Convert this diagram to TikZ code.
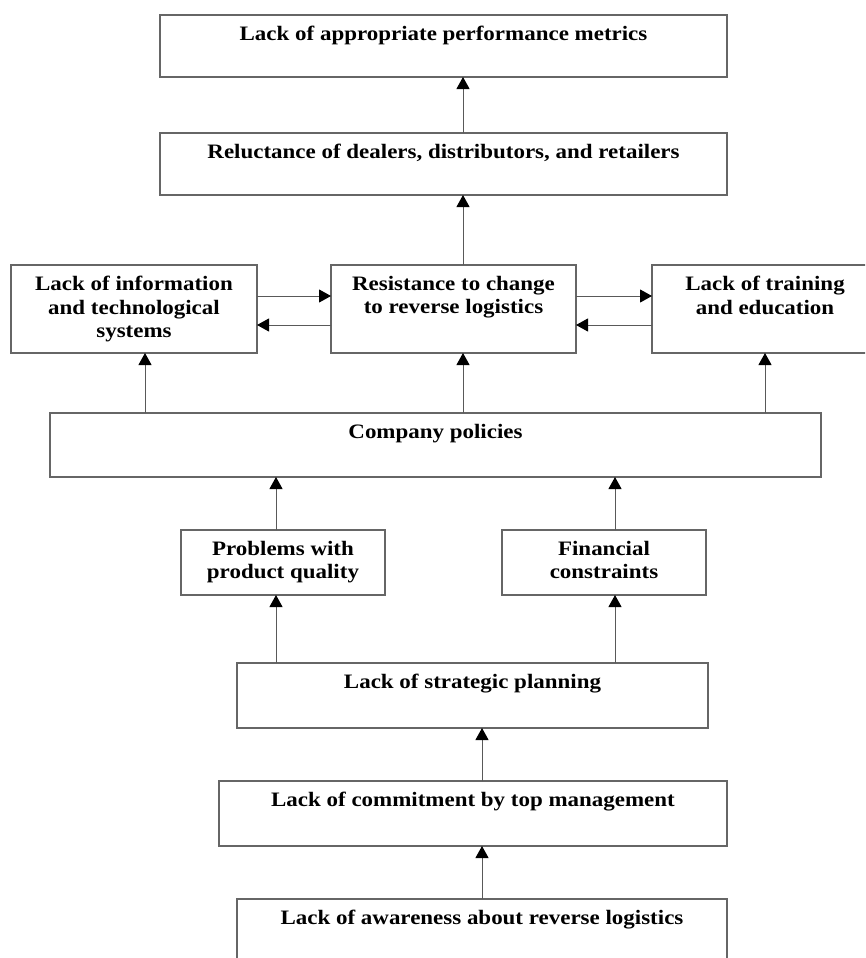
\documentclass[tikz,border=0pt]{standalone}
\usepackage{fontspec}
\setmainfont{Liberation Serif}[FakeStretch=1.12]
\usetikzlibrary{arrows.meta}

% A framed box given by its left, top, right and bottom edges, with its
% text set near the top edge.
\newcommand\flowbox[6]{%
  \node[boxstyle, minimum width={(#4-#2)*1pt}, minimum height={(#5-#3)*1pt}]
    (#1) at ({(#2+#4)/2},{(#3+#5)/2}) {};
  \node[txt] (#1-t) at ([yshift=-11pt]#1.north) {#6};}

\begin{document}
\begin{tikzpicture}[x=1pt, y=-1pt,
  boxstyle/.style={draw=black!60, line width=1.3pt, fill=white,
    inner sep=0pt, outer sep=0pt},
  txt/.style={font=\bfseries\fontsize{20.5}{23.5}\selectfont, align=center,
    inner sep=0pt, anchor=north},
  arr/.style={draw=black!65, line width=1pt,
    -{Triangle[width=13pt,length=12pt,color=black]}}]

\useasboundingbox (0,0) rectangle (865,958);
\clip (0,0) rectangle (865,958);

% boxes
\flowbox{metrics}{160}{15}{727}{77}{Lack of appropriate performance metrics}
\flowbox{dealers}{160}{133}{727}{195}{Reluctance of dealers, distributors, and retailers}
\flowbox{info}{11}{265}{257}{353}{Lack of information\\and technological\\systems}
\flowbox{resist}{331}{265}{576}{353}{Resistance to change\\to reverse logistics}
\flowbox{train}{652}{265}{878}{353}{Lack of training\\and education}
\flowbox{policy}{50}{413}{821}{477}{Company policies}
\flowbox{quality}{181}{530}{385}{595}{Problems with\\product quality}
\flowbox{finance}{502}{530}{706}{595}{Financial\\constraints}
\flowbox{plan}{237}{663}{708}{728}{Lack of strategic planning}
\flowbox{commit}{219}{781}{727}{846}{Lack of commitment by top management}
\flowbox{aware}{237}{899}{727}{975}{Lack of awareness about reverse logistics}

% columns and rows the connectors run along
\coordinate (xa) at (463,0);
\coordinate (xl) at (145,0);
\coordinate (xr) at (765,0);
\coordinate (xq) at (276,0);
\coordinate (xf) at (615,0);
\coordinate (xc) at (482,0);
\coordinate (yu) at (0,296);
\coordinate (yd) at (0,325);

% vertical connectors
\draw[arr] (dealers.north -| xa) -- (metrics.south -| xa);
\draw[arr] (resist.north -| xa) -- (dealers.south -| xa);
\draw[arr] (policy.north -| xl) -- (info.south -| xl);
\draw[arr] (policy.north -| xa) -- (resist.south -| xa);
\draw[arr] (policy.north -| xr) -- (train.south -| xr);
\draw[arr] (quality.north -| xq) -- (policy.south -| xq);
\draw[arr] (finance.north -| xf) -- (policy.south -| xf);
\draw[arr] (plan.north -| xq) -- (quality.south -| xq);
\draw[arr] (plan.north -| xf) -- (finance.south -| xf);
\draw[arr] (commit.north -| xc) -- (plan.south -| xc);
\draw[arr] (aware.north -| xc) -- (commit.south -| xc);

% horizontal connectors
\draw[arr] (info.east |- yu) -- (resist.west |- yu);
\draw[arr] (resist.west |- yd) -- (info.east |- yd);
\draw[arr] (resist.east |- yu) -- (train.west |- yu);
\draw[arr] (train.west |- yd) -- (resist.east |- yd);
\end{tikzpicture}
\end{document}
